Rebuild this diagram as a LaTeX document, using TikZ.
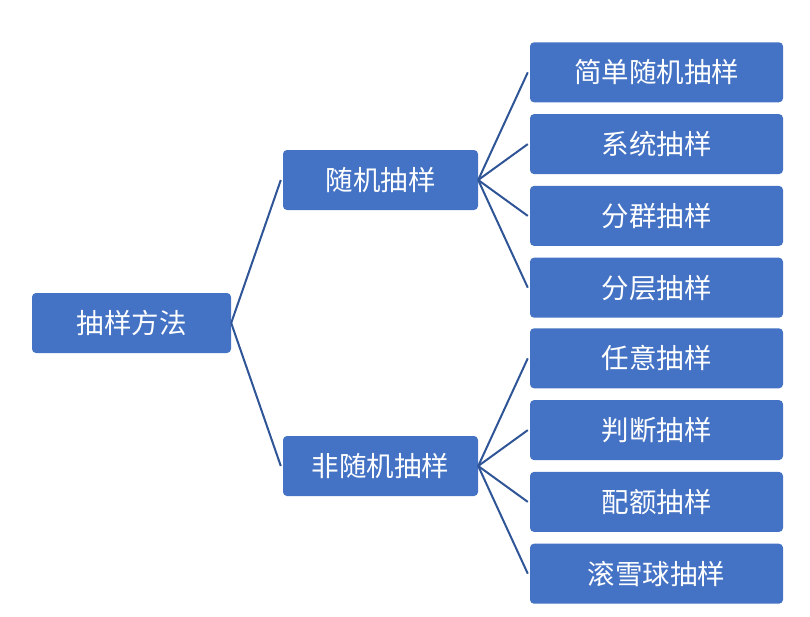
\documentclass[tikz,border=0pt]{standalone}
\usepackage{fontspec}
\newfontfamily\cjk{Noto Sans CJK SC}
\definecolor{boxblue}{HTML}{4472C4}
\definecolor{lineblue}{HTML}{2F5597}
\begin{document}
\begin{tikzpicture}
		[x=1pt,y=1pt,
		every node/.style={fill=boxblue,rounded corners=4pt,text=white,font=\cjk\fontsize{27.5}{32}\selectfont,minimum height=60pt,inner sep=0pt},
		grow=east,
		edge from parent/.style={draw=lineblue,line width=2pt},
		edge from parent path={(\tikzparentnode.east) -- ([xshift=-2pt]\tikzchildnode.west)},
		level 1/.style={level distance=249pt,sibling distance=286pt,minimum width=195pt},
		level 2/.style={level distance=276pt,sibling distance=71.8pt,minimum width=253pt},
		]
		\useasboundingbox (0,0) rectangle (810,-616);

		\node[minimum width=199pt] (root) at (131.5,-323) {抽样方法}
			child{
				node (nonrandom) {非随机抽样}
					child{node (snowball) {滚雪球抽样}}
					child{node (quota) {配额抽样}}
					child{node (judge) {判断抽样}}
					child{node (arbitrary) {任意抽样}}
			}
			child{
				node (random) {随机抽样}
					child{node (stratified) {分层抽样}}
					child{node (cluster) {分群抽样}}
					child{node (system) {系统抽样}}
					child{node (simple) {简单随机抽样}}
			}
		;
	\end{tikzpicture}
\end{document}
